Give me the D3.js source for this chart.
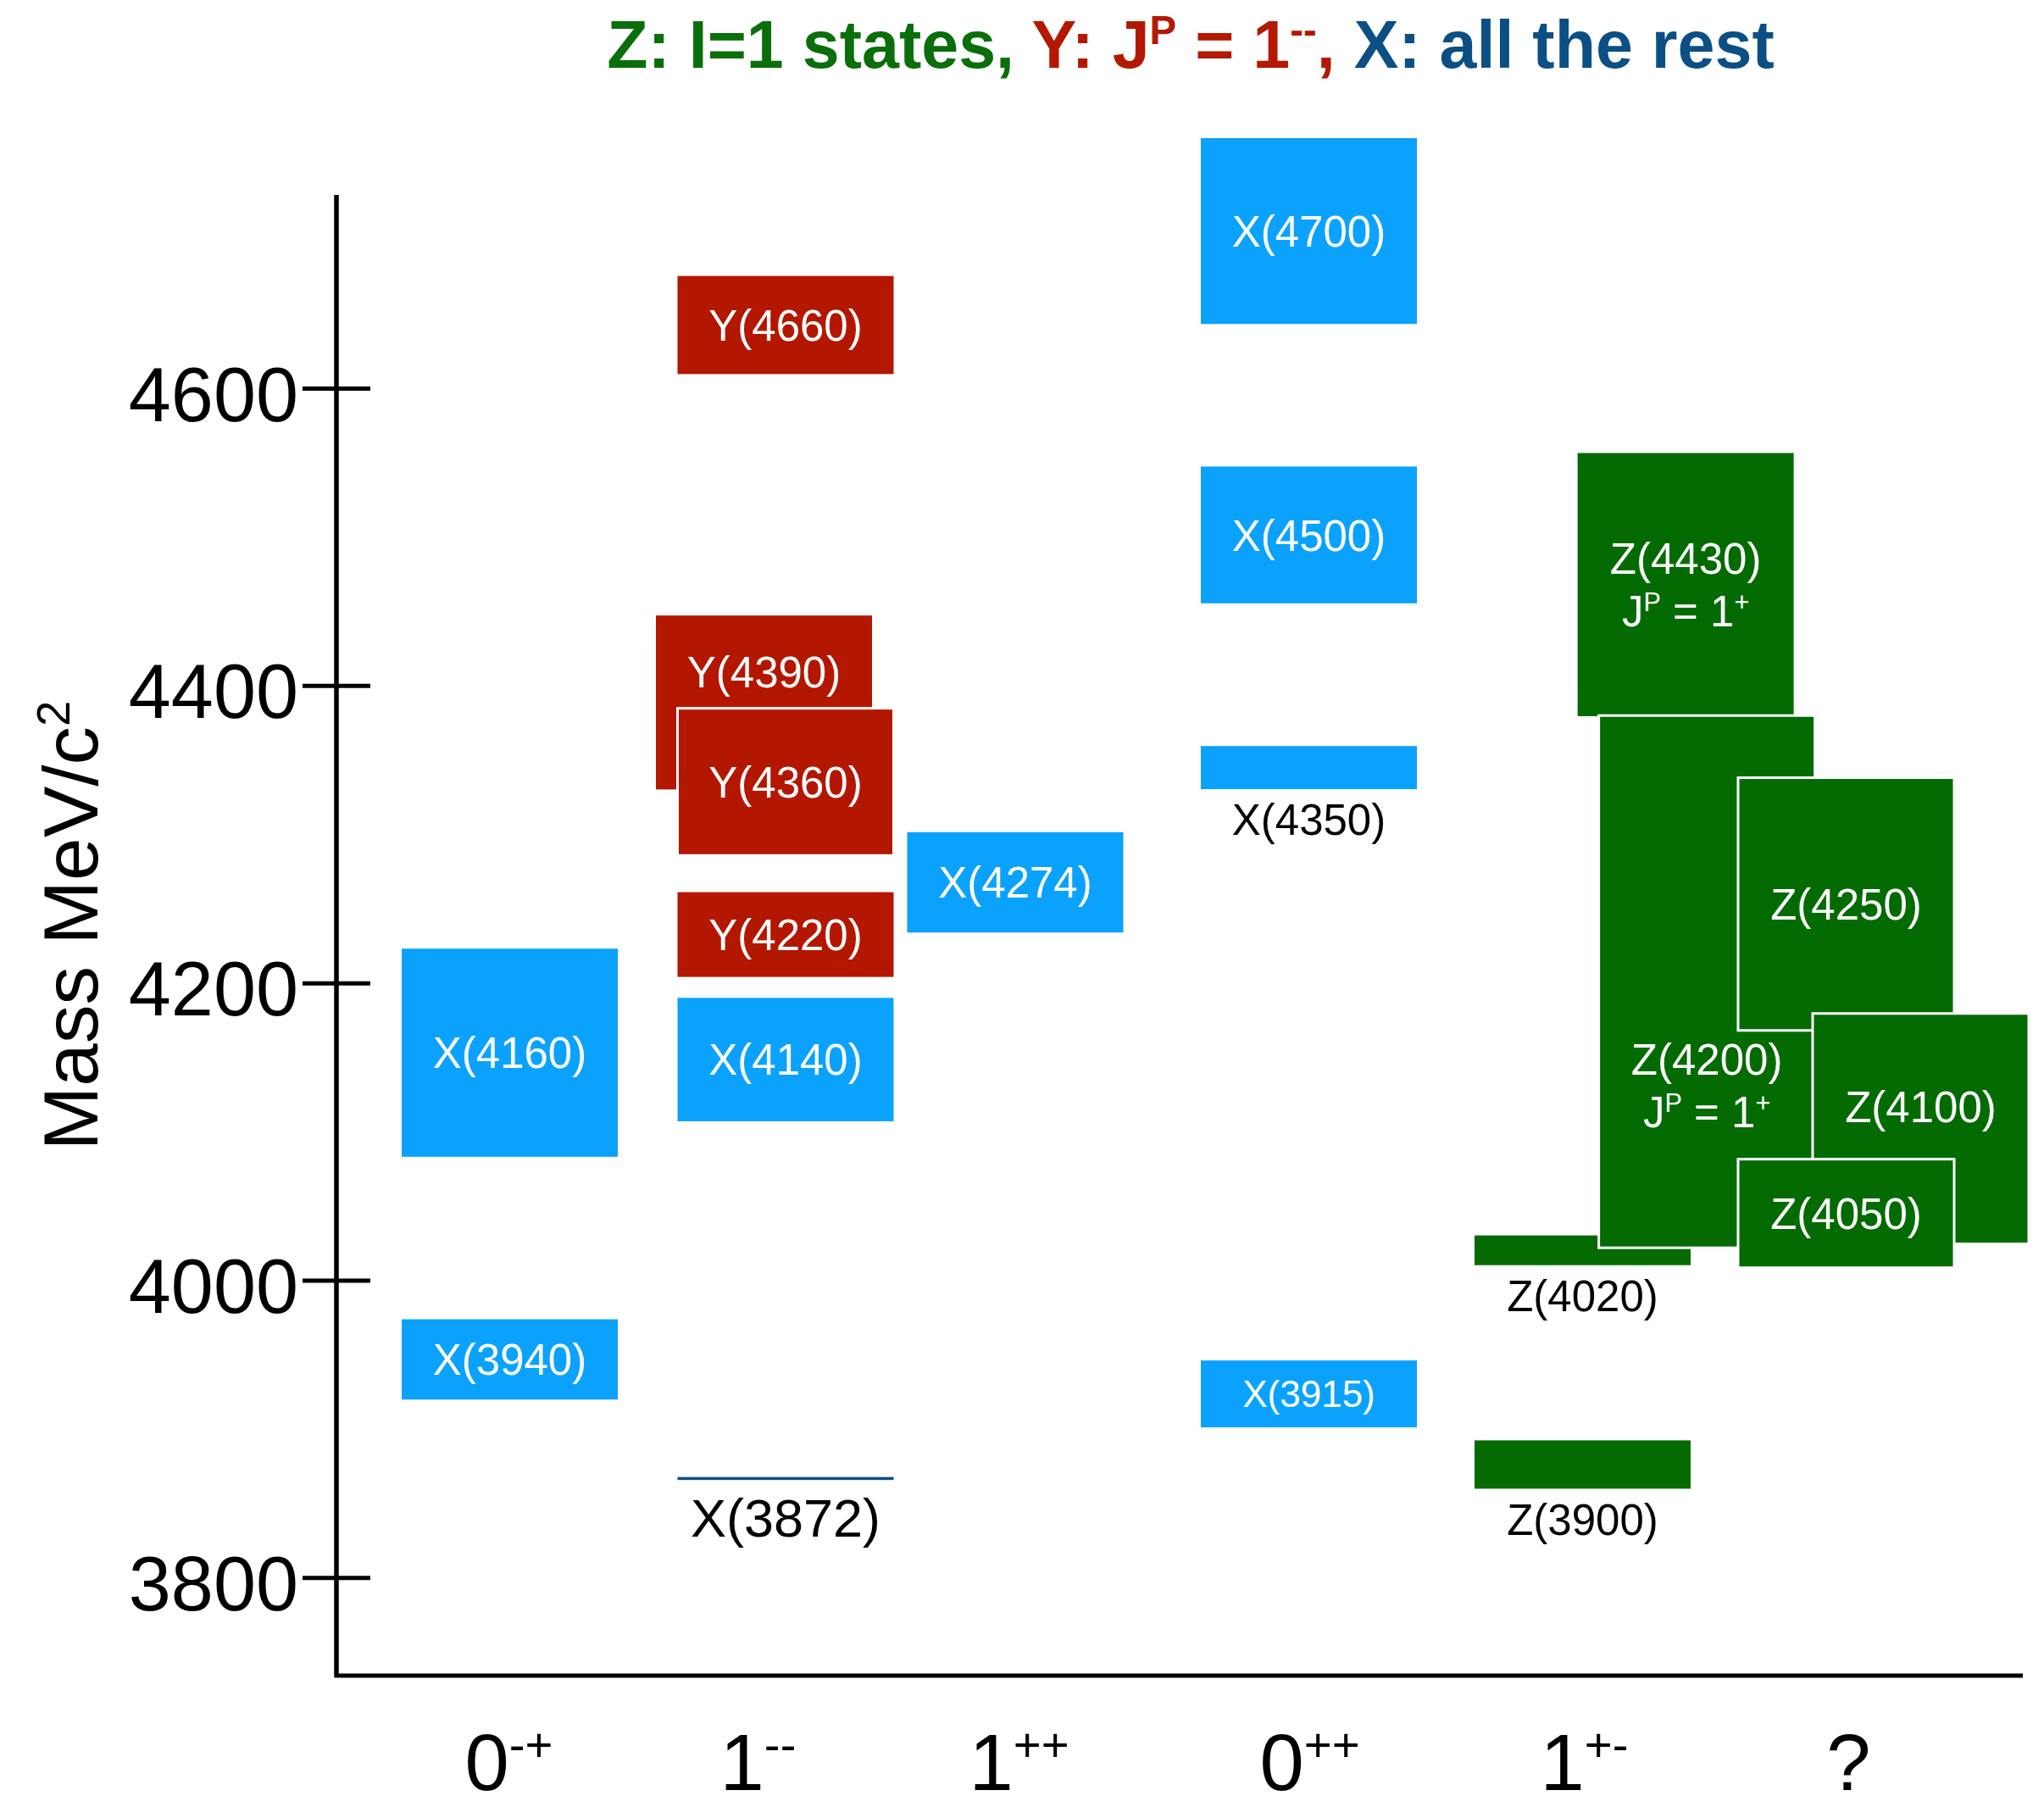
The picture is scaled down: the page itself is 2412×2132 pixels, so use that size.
<!DOCTYPE html>
<html>
<head>
<meta charset="utf-8">
<script src="https://cdn.jsdelivr.net/npm/d3@7"></script>
<style>
  body { margin: 0; background: #fff; }
  text { font-family: "Liberation Sans", Arial, Helvetica, sans-serif; white-space: pre; }
</style>
</head>
<body>
<svg id="chart"></svg>
<script>
// states, in drawing order (later ones sit on top)
const names     = ["X(4160)", "X(3940)", "Y(4660)", "Y(4390)", "Y(4360)", "Y(4220)", "X(4140)", "X(3872)",
                   "X(4274)", "X(4700)", "X(4500)", "X(4350)", "X(3915)",
                   "Z(3900)", "Z(4020)", "Z(4430)", "Z(4200)", "Z(4250)", "Z(4100)", "Z(4050)"];
const jpc       = ["0-+", "0-+", "1--", "1--", "1--", "1--", "1--", "1--",
                   "1++", "0++", "0++", "0++", "0++",
                   "1+-", "1+-", "1+-", "1+-", "?", "?", "?"];
const masses    = [4153, 3946.7, 4642.5, 4388.6, 4335.2, 4232.5, 4148.4, 3866.6,
                   4267.6, 4705.7, 4501.3, 4344.8, 3923.5,
                   3876, 4020.1, 4467.9, 4200.8, 4253, 4101.9, 4044.9];
const widths    = [140, 54, 66, 117, 99, 57, 83, 2,
                   67.5, 125, 92, 29, 45,
                   32.5, 20, 177, 358, 170, 155, 73];
// sideways shift inside the column, in box widths
const stagger   = [0, 0, 0, -0.1, 0, 0, 0, 0,
                   0, 0, 0, 0, 0,
                   0, 0, 0.477, 0.575, 0, 0.345, 0];
// mass where the label sits when it is not at the box centre
const labelMass = [null, null, null, 4409, null, null, null, null,
                   null, null, null, null, null,
                   null, null, null, 4131, null, 4117, null];
const labelBelow = ["X(3872)", "X(4350)", "Z(3900)", "Z(4020)"];
const spinNote   = ["Z(4430)", "Z(4200)"];   // states with "J^P = 1^+" line

const categories = ["0-+", "1--", "1++", "0++", "1+-", "?"];
const massTicks  = [3800, 4000, 4200, 4400, 4600];

// layout
const width = 2412, height = 2132;
const axisX = 397, axisTop = 230, axisBottom = 1977, axisRight = 2387;
const boxW = 255;
const colCenters   = [601.5, 927, 1198, 1544.5, 1867.5, 2178.5];
const labelCenters = [600, 894, 1202, 1545, 1869, 2181];

const colors = { X: "#0aa2fd", Y: "#b31700", Z: "#036b02", line: "#0b4f85" };
const titleColors = { Z: "#0a6f0a", Y: "#b31800", X: "#0b4f84" };

const svg = d3.select("#chart").attr("width", width).attr("height", height);
svg.append("rect").attr("width", width).attr("height", height).attr("fill", "#fff");

const y = d3.scaleLinear().domain([3734, 4730]).range([axisBottom, axisTop]);
const xBox = d3.scaleOrdinal().domain(categories).range(colCenters);
const xLab = d3.scaleOrdinal().domain(categories).range(labelCenters);

// text with raised parts: parts = [[string, isSup, colour]]
function rich(sel, parts, fs) {
  let up = false;
  parts.forEach(([s, sup, col]) => {
    const t = sel.append("tspan").text(s);
    if (sup && !up) { t.attr("dy", -0.36 * fs); up = true; }
    else if (!sup && up) { t.attr("dy", 0.36 * fs); up = false; }
    if (sup) t.attr("font-size", 0.6 * fs);
    if (col) t.attr("fill", col);
  });
}

// title
const title = svg.append("text")
  .attr("x", 1405).attr("y", 80)
  .attr("text-anchor", "middle")
  .attr("font-size", 79).attr("font-weight", "bold");
rich(title, [
  ["Z: I=1 states, ", false, titleColors.Z],
  ["Y: J", false, titleColors.Y], ["P", true, titleColors.Y], [" = 1", false, titleColors.Y],
  ["--", true, titleColors.Y], [",", false, titleColors.Y],
  [" X: all the rest", false, titleColors.X]
], 79);

// states
const states = names.map((n, i) => {
  const cx = xBox(jpc[i]) + stagger[i] * boxW;
  return {
    name: n, fam: n[0], cx,
    x0: cx - boxW / 2, x1: cx + boxW / 2,
    top: y(masses[i] + widths[i] / 2), bottom: y(masses[i] - widths[i] / 2),
    labelY: labelMass[i] != null ? y(labelMass[i]) : y(masses[i]),
    thin: widths[i] < 5
  };
});

// white outline on boxes that cover an earlier one
states.forEach((s, i) => {
  s.outline = states.slice(0, i).some(o =>
    s.x0 < o.x1 && s.x1 > o.x0 && s.top < o.bottom && s.bottom > o.top);
});

svg.append("g").selectAll("rect").data(states).join("rect")
  .attr("x", d => d.x0)
  .attr("y", d => d.top)
  .attr("width", boxW)
  .attr("height", d => Math.max(d.bottom - d.top, 3.5))
  .attr("fill", d => d.thin ? colors.line : colors[d.fam])
  .attr("stroke", d => d.outline ? "#fff" : "none")
  .attr("stroke-width", 3);

// labels
const labG = svg.append("g");
states.forEach(s => {
  const isBelow = labelBelow.includes(s.name);
  const fs = s.thin ? 63 : (s.name === "X(3915)" ? 44 : 51);
  if (isBelow) {
    labG.append("text")
      .attr("x", s.cx)
      .attr("y", s.bottom + 0.35 * fs + 0.716 * fs)
      .attr("text-anchor", "middle")
      .attr("font-size", fs).attr("fill", "#000")
      .text(s.name);
  } else if (spinNote.includes(s.name)) {
    labG.append("text")
      .attr("x", s.cx).attr("y", s.labelY - 31).attr("dy", "0.36em")
      .attr("text-anchor", "middle").attr("font-size", fs).attr("fill", "#fff")
      .text(s.name);
    const t2 = labG.append("text")
      .attr("x", s.cx).attr("y", s.labelY + 31 + 0.36 * fs)
      .attr("text-anchor", "middle").attr("font-size", fs).attr("fill", "#fff");
    rich(t2, [["J", false], ["P", true], [" = 1", false], ["+", true]], fs);
  } else {
    labG.append("text")
      .attr("x", s.cx).attr("y", s.labelY).attr("dy", "0.36em")
      .attr("text-anchor", "middle").attr("font-size", fs).attr("fill", "#fff")
      .text(s.name);
  }
});

// y axis
const yAxis = svg.append("g")
  .attr("transform", `translate(${axisX},0)`)
  .call(d3.axisLeft(y).tickValues(massTicks).tickSize(40).tickFormat(d3.format("d")));
yAxis.select(".domain").remove();
yAxis.selectAll(".tick line").attr("x1", 40).attr("x2", -40).attr("stroke", "#000").attr("stroke-width", 5);
yAxis.selectAll(".tick text")
  .attr("x", -45).attr("dy", 38)
  .attr("font-size", 90).attr("fill", "#000")
  .attr("font-family", "Liberation Sans, Arial, Helvetica, sans-serif");

svg.append("line")
  .attr("x1", axisX).attr("x2", axisX).attr("y1", axisTop).attr("y2", axisBottom + 2)
  .attr("stroke", "#000").attr("stroke-width", 5.5);
svg.append("line")
  .attr("x1", axisX - 2).attr("x2", axisRight).attr("y1", axisBottom).attr("y2", axisBottom)
  .attr("stroke", "#000").attr("stroke-width", 5);

// y axis title
const yt = svg.append("text")
  .attr("transform", `translate(115,1092) rotate(-90)`)
  .attr("text-anchor", "middle").attr("font-size", 91).attr("fill", "#000");
rich(yt, [["Mass MeV/c", false], ["2", true]], 91);

// category labels
const xAxis = svg.append("g")
  .attr("transform", `translate(0,2112)`)
  .call(d3.axisBottom(xLab).tickSize(0).tickPadding(0));
xAxis.select(".domain").remove();
xAxis.selectAll(".tick text").each(function (d) {
  const t = d3.select(this).text("").attr("y", 0).attr("dy", 0)
    .attr("font-size", 94).attr("fill", "#000")
    .attr("font-family", "Liberation Sans, Arial, Helvetica, sans-serif");
  if (d === "?") rich(t, [["?", false]], 94);
  else rich(t, [[d[0], false], [d.slice(1), true]], 94);
});
</script>
</body>
</html>
